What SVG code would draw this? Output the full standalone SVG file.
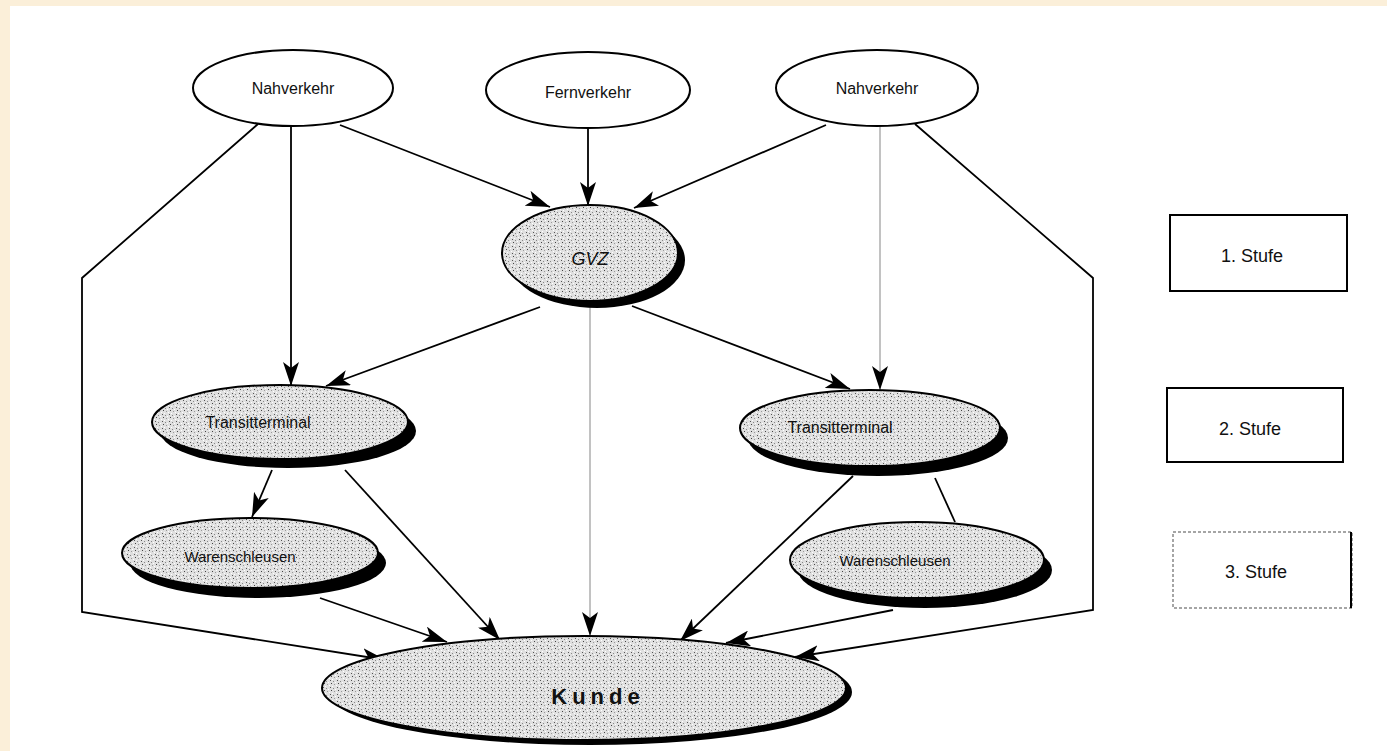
<svg xmlns="http://www.w3.org/2000/svg" width="1387" height="751" viewBox="0 0 1387 751">
<style>
.lbl{font-family:"Liberation Sans",Arial,sans-serif;font-size:16px;fill:#111;text-anchor:middle;dominant-baseline:central}
.leg{font-family:"Liberation Sans",Arial,sans-serif;font-size:18px;fill:#111;text-anchor:middle;dominant-baseline:central}
.plain{fill:#fff;stroke:#000;stroke-width:2}
.shade{fill:url(#stip);stroke:#000;stroke-width:2}
.shadow{fill:#000}
.con{fill:none;stroke:#000;stroke-width:1.8}
.gcon{fill:none;stroke:#999;stroke-width:1.2}
</style>
<defs>
<pattern id="stip" width="7" height="7" patternUnits="userSpaceOnUse">
<rect width="7" height="7" fill="#e0e0e0"/>
<rect x="1" y="1" width="1" height="1" fill="#555"/>
<rect x="4" y="2" width="1" height="1" fill="#888"/>
<rect x="2" y="4" width="1" height="1" fill="#444"/>
<rect x="5" y="5" width="1" height="1" fill="#999"/>
<rect x="0" y="6" width="1" height="1" fill="#fff"/>
<rect x="3" y="0" width="1" height="1" fill="#fff"/>
<rect x="6" y="3" width="1" height="1" fill="#fff"/>
</pattern>
<marker id="arr" viewBox="0 0 24 16" refX="24" refY="8" markerWidth="24" markerHeight="16" markerUnits="userSpaceOnUse" orient="auto">
<path d="M0,0 L24,8 L0,16 L6,8 Z" fill="#000"/>
</marker>
</defs>
<rect x="0" y="0" width="1387" height="751" fill="#fbefd9"/>
<rect x="10" y="6" width="1377" height="745" fill="#fff"/>

<g id="connectors">
<line class="con" x1="340" y1="125" x2="550" y2="207" marker-end="url(#arr)"/>
<line class="con" x1="291" y1="127" x2="291" y2="386" marker-end="url(#arr)"/>
<polyline class="con" points="258,124 82,278 82,612 386,660" marker-end="url(#arr)"/>
<line class="con" x1="588" y1="128" x2="588" y2="206" marker-end="url(#arr)"/>
<line class="con" x1="826" y1="125" x2="634" y2="208" marker-end="url(#arr)"/>
<line class="gcon" x1="880" y1="127" x2="880" y2="390" marker-end="url(#arr)"/>
<polyline class="con" points="915,124 1093,278 1093,610 795,657" marker-end="url(#arr)"/>
<line class="con" x1="540" y1="307" x2="326" y2="386" marker-end="url(#arr)"/>
<line class="gcon" x1="590" y1="306" x2="590" y2="636" marker-end="url(#arr)"/>
<line class="con" x1="632" y1="306" x2="850" y2="389" marker-end="url(#arr)"/>
<line class="con" x1="272" y1="470" x2="252" y2="517" marker-end="url(#arr)"/>
<line class="con" x1="345" y1="470" x2="500" y2="640" marker-end="url(#arr)"/>
<line class="con" x1="320" y1="598" x2="447" y2="642" marker-end="url(#arr)"/>
<line class="con" x1="853" y1="476" x2="680" y2="641" marker-end="url(#arr)"/>
<line class="con" x1="935" y1="478" x2="955" y2="522"/>
<line class="con" x1="893" y1="610" x2="726" y2="643" marker-end="url(#arr)"/>
</g>

<g id="nahverkehr-links">
<ellipse class="plain" cx="293" cy="88" rx="100" ry="38"/>
<text class="lbl" x="293" y="88">Nahverkehr</text>
</g>
<g id="fernverkehr">
<ellipse class="plain" cx="588" cy="90" rx="102" ry="38"/>
<text class="lbl" x="588" y="92">Fernverkehr</text>
</g>
<g id="nahverkehr-rechts">
<ellipse class="plain" cx="877" cy="88" rx="101" ry="38"/>
<text class="lbl" x="877" y="88">Nahverkehr</text>
</g>

<g id="gvz">
<ellipse class="shadow" cx="597" cy="260" rx="88" ry="48"/>
<ellipse class="shade" cx="590" cy="253" rx="88" ry="48"/>
<text class="lbl" x="590" y="259" style="font-style:italic;font-size:18px">GVZ</text>
</g>
<g id="transitterminal-links">
<ellipse class="shadow" cx="288" cy="431" rx="128" ry="37"/>
<ellipse class="shade" cx="280" cy="422" rx="128" ry="37"/>
<text class="lbl" x="258" y="422">Transitterminal</text>
</g>
<g id="transitterminal-rechts">
<ellipse class="shadow" cx="878" cy="438" rx="130" ry="38"/>
<ellipse class="shade" cx="870" cy="428" rx="130" ry="38"/>
<text class="lbl" x="840" y="427">Transitterminal</text>
</g>
<g id="warenschleusen-links">
<ellipse class="shadow" cx="258" cy="563" rx="128" ry="35"/>
<ellipse class="shade" cx="250" cy="553" rx="128" ry="35"/>
<text class="lbl" x="240" y="556" style="font-size:15px">Warenschleusen</text>
</g>
<g id="warenschleusen-rechts">
<ellipse class="shadow" cx="925" cy="570" rx="127" ry="38"/>
<ellipse class="shade" cx="917" cy="560" rx="127" ry="38"/>
<text class="lbl" x="895" y="560" style="font-size:15px">Warenschleusen</text>
</g>
<g id="kunde">
<ellipse class="shadow" cx="590" cy="692" rx="262" ry="53"/>
<ellipse class="shade" cx="584" cy="688" rx="262" ry="52"/>
<text class="lbl" x="598" y="696" style="font-size:22px;font-weight:bold;letter-spacing:5px">Kunde</text>
</g>

<g id="legende-1">
<rect x="1170" y="215" width="177" height="76" fill="#fff" stroke="#000" stroke-width="2"/>
<text class="leg" x="1252" y="256">1. Stufe</text>
</g>
<g id="legende-2">
<rect x="1167" y="388" width="176" height="74" fill="#fff" stroke="#000" stroke-width="2"/>
<text class="leg" x="1250" y="429">2. Stufe</text>
</g>
<g id="legende-3">
<rect x="1173" y="532" width="179" height="76" fill="#fff" stroke="#888" stroke-width="1.5" stroke-dasharray="3,2"/>
<line x1="1351" y1="532" x2="1351" y2="608" stroke="#000" stroke-width="2"/>
<text class="leg" x="1256" y="572">3. Stufe</text>
</g>
</svg>
